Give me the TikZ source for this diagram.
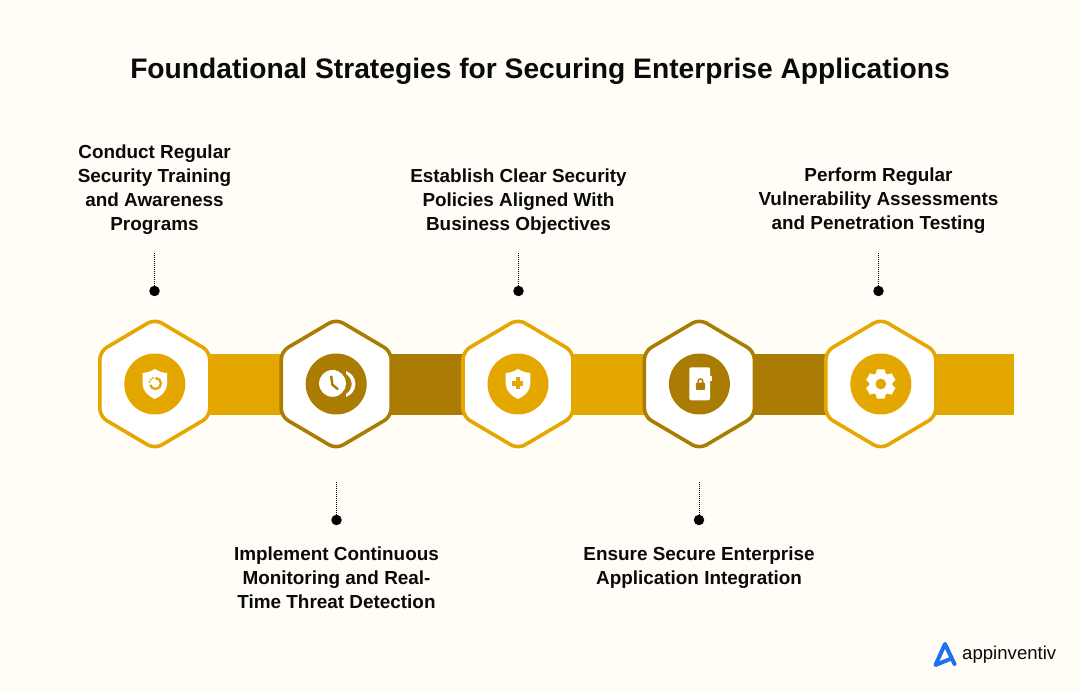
\documentclass[tikz,border=0pt]{standalone}
\usepackage{fontspec}
\setmainfont{Liberation Sans}
\usetikzlibrary{calc}
\definecolor{bgc}{HTML}{FFFDF6}
\definecolor{gold}{HTML}{E3A700}
\definecolor{bronze}{HTML}{AB7C03}
\definecolor{logoblue}{HTML}{1F6FF2}
\definecolor{ink}{HTML}{0A0A0A}
\tikzset{
  x=1pt,y=-1pt,
  title/.style={font=\bfseries\fontsize{28.2}{32}\selectfont,text=ink,anchor=center,inner sep=0pt},
  lab/.style={font=\bfseries\fontsize{18.9}{24}\selectfont,text=ink,align=center,anchor=center,inner sep=0pt},
  dotnode/.style={circle,fill=black,minimum size=10.5pt,inner sep=0pt},
  leader/.style={black,line width=0.7pt,dash pattern=on 1pt off 1pt},
  disc/.style={circle,minimum size=61pt,inner sep=0pt},
  hexline/.style={line width=3.6pt,fill=white,rounded corners=8pt,line join=round},
}
\newcommand{\hexat}[2]{%
  \draw[hexline,draw=#2] (#1,319)--(#1+55,351.5)--(#1+55,416.5)--(#1,449)--(#1-55,416.5)--(#1-55,351.5)--cycle;}
\newcommand{\shieldat}[2]{%
  \fill[#2] (#1,369) .. controls (#1+4,371.5) and (#1+8,372.7) .. (#1+12.3,373)
    -- (#1+12.3,384) .. controls (#1+12.3,391) and (#1+6,396.5) .. (#1,399)
    .. controls (#1-6,396.5) and (#1-12.3,391) .. (#1-12.3,384) -- (#1-12.3,373)
    .. controls (#1-8,372.7) and (#1-4,371.5) .. (#1,369) -- cycle;}
\begin{document}
\begin{tikzpicture}
\useasboundingbox (0,0) rectangle (1080,692);
\fill[bgc] (0,0) rectangle (1080,692);
\node[title] (ttl) at (540,71) {Foundational Strategies for Securing Enterprise Applications};
% bars
\fill[gold] (205,354) rectangle (290,415.5);
\fill[bronze] (380,354) rectangle (470,415.5);
\fill[gold] (565,354) rectangle (650,415.5);
\fill[bronze] (745,354) rectangle (835,415.5);
\fill[gold] (925,354) rectangle (1014,415.5);
% hexagons
\hexat{154.8}{gold}
\hexat{336.2}{bronze}
\hexat{518}{gold}
\hexat{699.4}{bronze}
\hexat{880.8}{gold}
% discs
\node[disc,fill=gold] (c1) at (154.8,384) {};
\node[disc,fill=bronze] (c2) at (336.2,384) {};
\node[disc,fill=gold] (c3) at (518,384) {};
\node[disc,fill=bronze] (c4) at (699.4,384) {};
\node[disc,fill=gold] (c5) at (880.8,384) {};
% icon 1
\shieldat{154.8}{white}
\draw[gold,line width=2.3pt] (155.5,378) arc[start angle=-90,end angle=165,radius=5.5];
\foreach \a in {195,220,245}{\fill[gold] ($(155.5,383.5)+(\a:6.2)$) circle (1.1);}
% icon 2
\fill[white] (332.5,383.4) circle (13.4);
\draw[bronze,line width=2.4pt,line cap=round] (331.3,376.5)--(332.3,384.6)--(337.6,389);
\fill[white] (346,371) .. controls (358.5,375.5) and (358.5,392.5) .. (346,397) -- (346,394)
  .. controls (353.5,389.5) and (353.5,378.5) .. (346,374) -- cycle;
% icon 3
\shieldat{518}{white}
\fill[gold] (515.6,377.3) rectangle (520.4,389.3);
\fill[gold] (511.8,381) rectangle (523.4,385.7);
% icon 4
\fill[white,rounded corners=2pt] (689.3,367.3) rectangle (710,400.3);
\fill[white] (709,375.7) rectangle (712,381);
\fill[bronze,rounded corners=1pt] (695.8,382.7) rectangle (705,390);
\draw[bronze,line width=1.4pt] (698,383) -- (698,381.3) arc[start angle=180,end angle=360,radius=2.4] -- (702.8,383);
% icon 5
\foreach \a in {0,60,...,300}{\fill[white,rotate around={\a:(880.8,384)}] (877,369.3) -- (884.6,369.3) -- (886.6,377) -- (875,377) -- cycle;}
\fill[white] (880.8,384) circle (11.5);
\fill[gold] (880.8,384) circle (5.4);
% dots and leaders
\node[dotnode] (d1) at (154.5,291) {};
\node[dotnode] (d2) at (336.5,520) {};
\node[dotnode] (d3) at (518.5,291) {};
\node[dotnode] (d4) at (699,520) {};
\node[dotnode] (d5) at (878.5,291) {};
\coordinate (e1) at (154.5,253);
\coordinate (e2) at (336.5,482);
\coordinate (e3) at (518.5,253);
\coordinate (e4) at (699,482);
\coordinate (e5) at (878.5,253);
\foreach \i in {1,...,5}{\draw[leader] (e\i) -- (d\i);}
% labels
\node[lab] (t1) at (154.5,190) {Conduct Regular\\Security Training\\and Awareness\\Programs};
\node[lab] (t2) at (336.5,578) {Implement Continuous\\Monitoring and Real-\\Time Threat Detection};
\node[lab] (t3) at (518.5,202) {Establish Clear Security\\Policies Aligned With\\Business Objectives};
\node[lab] (t4) at (699,567.5) {Ensure Secure Enterprise\\Application Integration};
\node[lab] (t5) at (878.5,201) {Perform Regular\\Vulnerability Assessments\\and Penetration Testing};
% logo
\draw[logoblue,line width=4pt,line join=round,line cap=round] (954.5,664) -- (945,644) -- (935.5,665) -- (949,659.5);
\node[font=\fontsize{18.6}{24}\selectfont,text=ink,anchor=west,inner sep=0pt] (lg) at (962,654.5) {appinventiv};
\end{tikzpicture}
\end{document}
